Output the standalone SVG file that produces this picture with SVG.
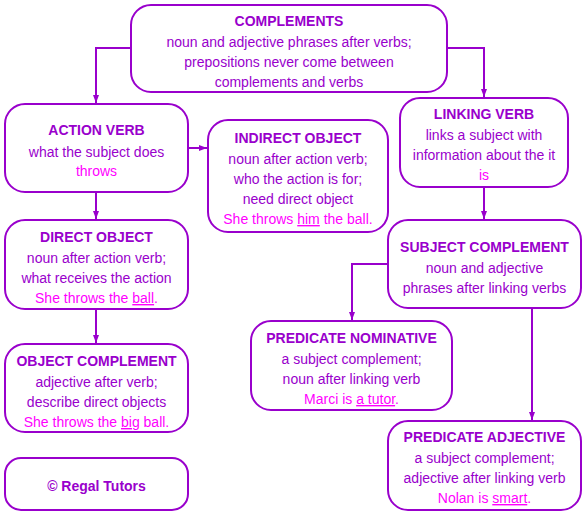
<svg xmlns="http://www.w3.org/2000/svg" width="587" height="518" viewBox="0 0 587 518">
<defs>
<marker id="ah" viewBox="0 0 8 8" refX="8" refY="4" markerWidth="8" markerHeight="8" markerUnits="userSpaceOnUse" orient="auto">
<path d="M0,1 L8,4 L0,7 Z" fill="#9900cc"/>
</marker>
<style>
.box{fill:#fff;stroke:#9900cc;stroke-width:2}
text{font-family:"Liberation Sans",Arial,Helvetica,sans-serif;font-size:14px;text-anchor:middle;fill:#9900cc}
.t{font-weight:bold}
.ex{fill:#ff00ff}
.u{text-decoration:underline}
.c{fill:none;stroke:#9900cc;stroke-width:2}
</style>
</defs>
<rect width="587" height="518" fill="#fff"/>
<g id="connectors">
<path class="c" d="M131,48 H96 V103" marker-end="url(#ah)"/>
<path class="c" d="M447,48 H484 V97" marker-end="url(#ah)"/>
<path class="c" d="M188,148 H207" marker-end="url(#ah)"/>
<path class="c" d="M96,192 V219" marker-end="url(#ah)"/>
<path class="c" d="M96,309 V343" marker-end="url(#ah)"/>
<path class="c" d="M484,187 V219" marker-end="url(#ah)"/>
<path class="c" d="M388,264 H352 V320" marker-end="url(#ah)"/>
<path class="c" d="M532,308 V420" marker-end="url(#ah)"/>
</g>
<g id="complements">
<rect class="box" x="131" y="5" width="316" height="87" rx="20"/>
<text class="t" x="289" y="26">COMPLEMENTS</text>
<text x="289" y="47">noun and adjective phrases after verbs;</text>
<text x="289" y="67">prepositions never come between</text>
<text x="289" y="87">complements and verbs</text>
</g>
<g id="action-verb">
<rect class="box" x="5" y="104" width="183" height="88" rx="20"/>
<text class="t" x="96.5" y="135">ACTION VERB</text>
<text x="96.5" y="157">what the subject does</text>
<text class="ex" x="96.5" y="176">throws</text>
</g>
<g id="indirect-object">
<rect class="box" x="208" y="120" width="180" height="112" rx="20"/>
<text class="t" x="298" y="143">INDIRECT OBJECT</text>
<text x="298" y="164">noun after action verb;</text>
<text x="298" y="184">who the action is for;</text>
<text x="298" y="204">need direct object</text>
<text class="ex" x="298" y="224">She throws <tspan class="u">him</tspan> the ball.</text>
</g>
<g id="linking-verb">
<rect class="box" x="400" y="98" width="168" height="89" rx="20"/>
<text class="t" x="484" y="119">LINKING VERB</text>
<text x="484" y="140">links a subject with</text>
<text x="484" y="160">information about the it</text>
<text class="ex" x="484" y="180">is</text>
</g>
<g id="direct-object">
<rect class="box" x="5" y="220" width="183" height="89" rx="20"/>
<text class="t" x="96.5" y="242">DIRECT OBJECT</text>
<text x="96.5" y="263">noun after action verb;</text>
<text x="96.5" y="283">what receives the action</text>
<text class="ex" x="96.5" y="303">She throws the <tspan class="u">ball</tspan>.</text>
</g>
<g id="object-complement">
<rect class="box" x="5" y="344" width="183" height="88" rx="20"/>
<text class="t" x="96.5" y="366">OBJECT COMPLEMENT</text>
<text x="96.5" y="387">adjective after verb;</text>
<text x="96.5" y="407">describe direct objects</text>
<text class="ex" x="96.5" y="427">She throws the <tspan class="u">big</tspan> ball.</text>
</g>
<g id="regal-tutors">
<rect class="box" x="5" y="458" width="183" height="52" rx="16"/>
<text class="t" x="96.5" y="491">© Regal Tutors</text>
</g>
<g id="subject-complement">
<rect class="box" x="388" y="220" width="193" height="88" rx="20"/>
<text class="t" x="484.5" y="252">SUBJECT COMPLEMENT</text>
<text x="484.5" y="273">noun and adjective</text>
<text x="484.5" y="293">phrases after linking verbs</text>
</g>
<g id="predicate-nominative">
<rect class="box" x="251" y="321" width="201" height="89" rx="20"/>
<text class="t" x="351.5" y="343">PREDICATE NOMINATIVE</text>
<text x="351.5" y="364">a subject complement;</text>
<text x="351.5" y="384">noun after linking verb</text>
<text class="ex" x="351.5" y="404">Marci is <tspan class="u">a tutor</tspan>.</text>
</g>
<g id="predicate-adjective">
<rect class="box" x="388" y="421" width="193" height="89" rx="20"/>
<text class="t" x="484.5" y="442">PREDICATE ADJECTIVE</text>
<text x="484.5" y="463">a subject complement;</text>
<text x="484.5" y="483">adjective after linking verb</text>
<text class="ex" x="484.5" y="503">Nolan is <tspan class="u">smart</tspan>.</text>
</g>
</svg>
